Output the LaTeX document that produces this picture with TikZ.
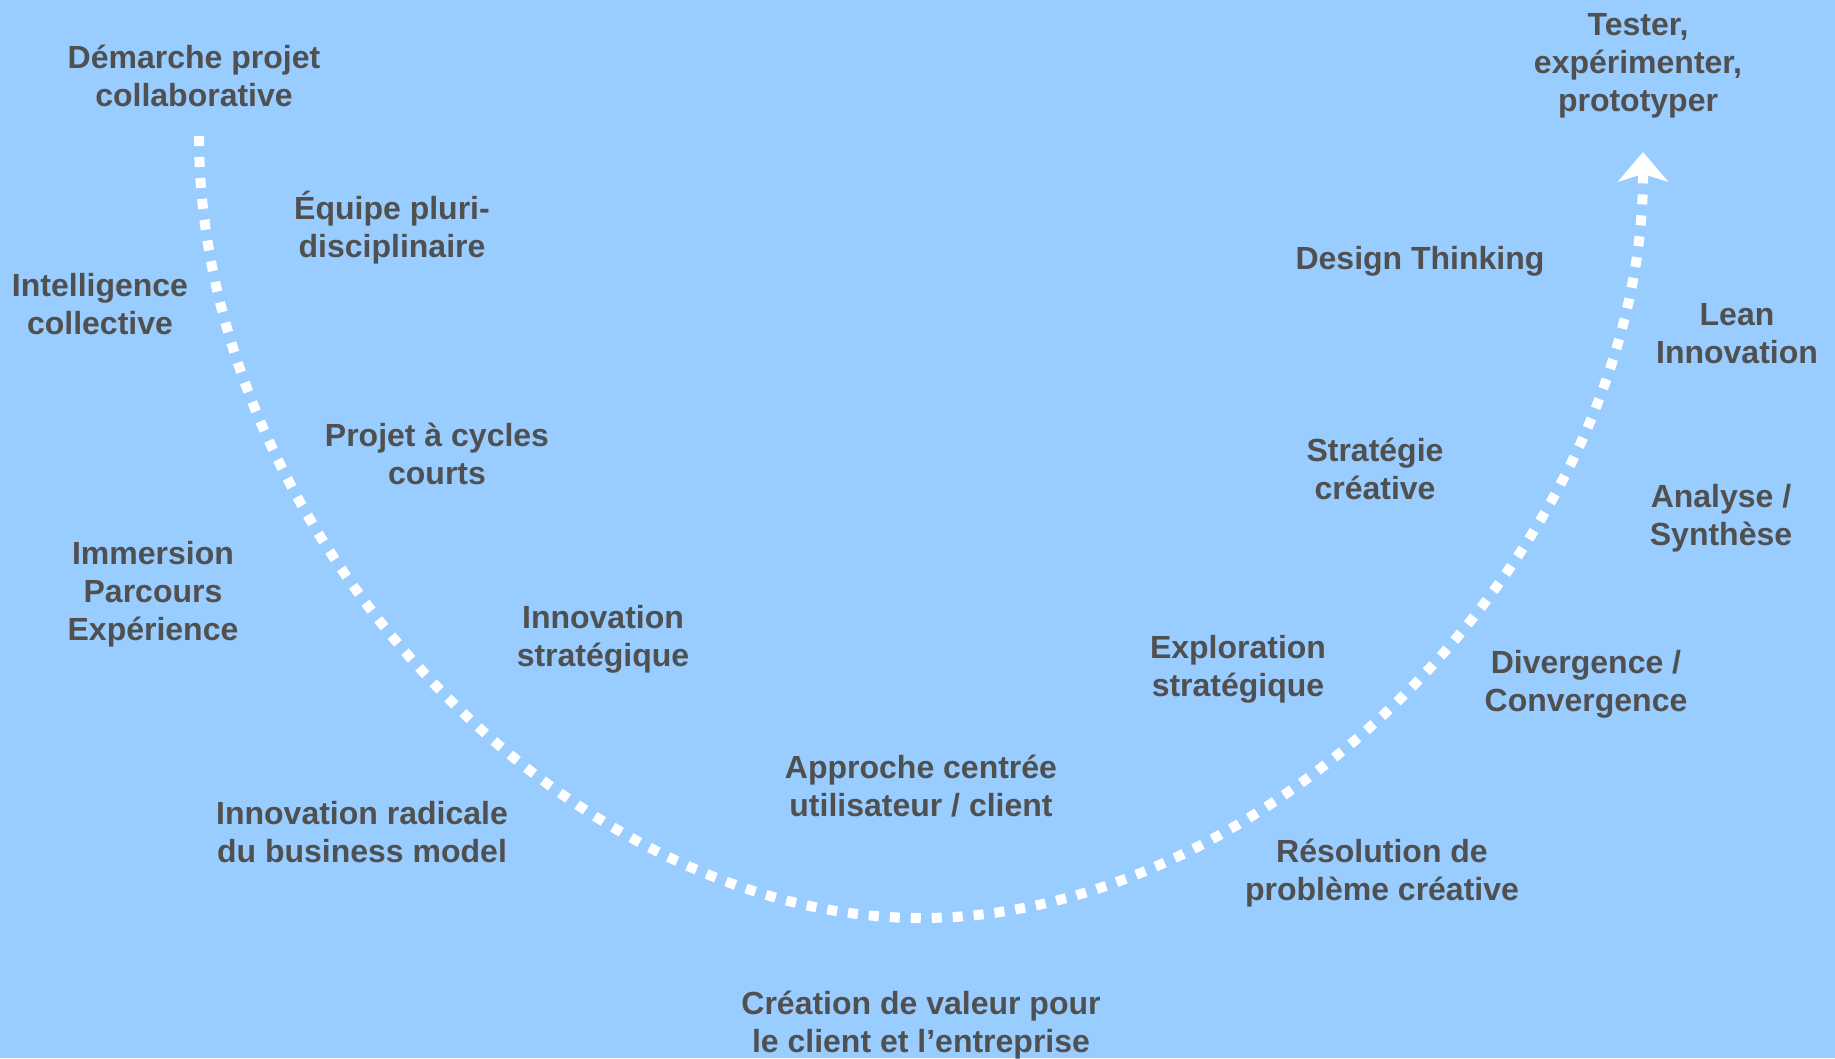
\documentclass[tikz,border=0pt]{standalone}
\usepackage{fontspec}
\setmainfont{Liberation Sans}
\usetikzlibrary{arrows.meta}
\definecolor{bg}{HTML}{99CCFF}
\definecolor{txt}{HTML}{505050}
\tikzset{
  lbl/.style={text=txt, font=\bfseries\fontsize{32}{38}\selectfont, align=center, inner sep=0pt, yshift=-5pt},
  dots/.style={draw=white, line width=10pt, dash pattern=on 10pt off 11pt},
}
\begin{document}
\begin{tikzpicture}[x=1pt,y=-1pt]
\fill[bg] (0,0) rectangle (1835,1058);
\useasboundingbox (0,0) rectangle (1835,1058);
\coordinate (s) at (199,136);
\coordinate (m) at (921,918);
\coordinate (e) at (1643,152);
\draw[dots, -{Stealth[length=30pt,width=51pt,inset=8pt,fill=white,line width=0pt]}]
  (s) .. controls (199,527) and (560,918) .. (m)
      .. controls (1282,918) and (1643,535) .. (e);
\node[lbl] (n1) at (194,71) {Démarche projet\\collaborative};
\node[lbl] (n2) at (1638,61) {Tester,\\expérimenter,\\prototyper};
\node[lbl] (n3) at (392,223) {Équipe pluri-\\disciplinaire};
\node[lbl] (n4) at (100,299) {Intelligence\\collective};
\node[lbl] (n5) at (1420,256) {Design Thinking};
\node[lbl] (n6) at (1737,328.5) {Lean\\Innovation};
\node[lbl] (n7) at (437,449) {Projet à cycles\\courts};
\node[lbl] (n8) at (1375,464) {Stratégie\\créative};
\node[lbl] (n9) at (1721,513) {Analyse /\\Synthèse};
\node[lbl] (n10) at (153,589) {Immersion\\Parcours\\Expérience};
\node[lbl] (n11) at (603,634) {Innovation\\stratégique};
\node[lbl] (n12) at (1238,664) {Exploration\\stratégique};
\node[lbl] (n13) at (1586,679) {Divergence /\\Convergence};
\node[lbl] (n14) at (921,781) {Approche centrée\\utilisateur / client};
\node[lbl] (n15) at (362,827) {Innovation radicale\\du business model};
\node[lbl] (n16) at (1382,868) {Résolution de\\problème créative};
\node[lbl] (n17) at (921,1020) {Création de valeur pour\\le client et l’entreprise};
\end{tikzpicture}
\end{document}
